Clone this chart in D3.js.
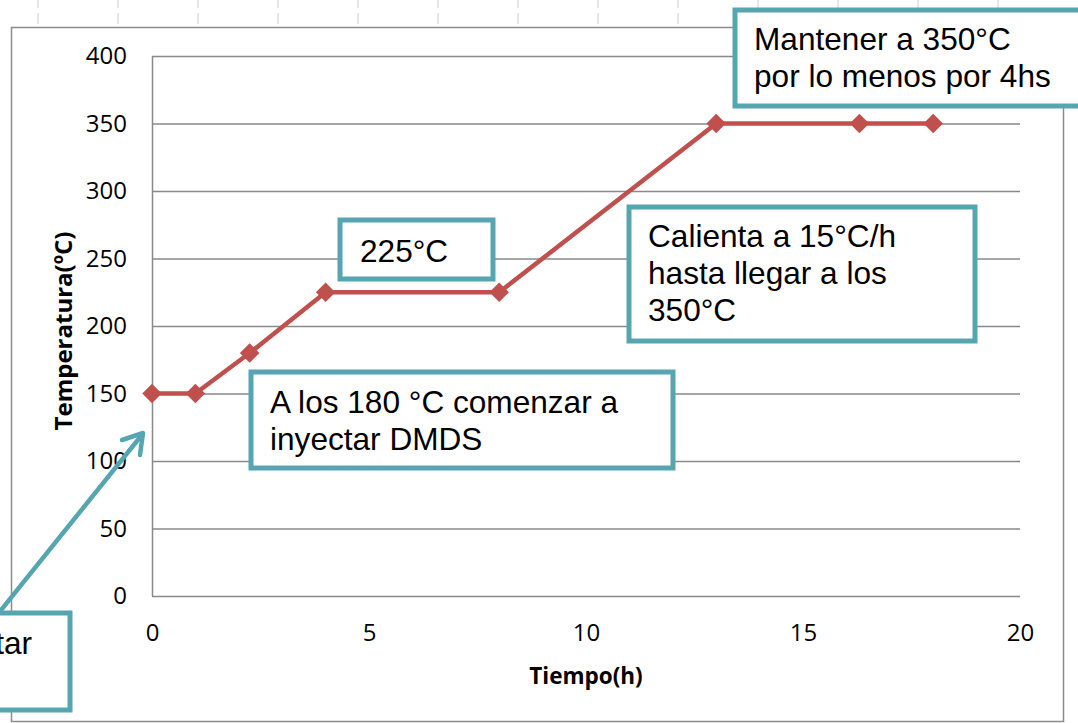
<!DOCTYPE html>
<html>
<head>
<meta charset="utf-8">
<script src="https://cdn.jsdelivr.net/npm/d3@7"></script>
<style>
  body { margin: 0; background: #fff; }
  svg { display: block; }
  .tick text { font-family: "Open Sans", sans-serif; font-size: 24px; fill: #000; }
  .note { font-family: "Liberation Sans", Arial, sans-serif; font-size: 31.6px; fill: #000; }
  .axisTitle { font-family: "Open Sans", sans-serif; font-weight: bold; font-size: 22.5px; fill: #000; }
</style>
</head>
<body>
<svg width="1078" height="723"></svg>
<script>
const times = [0, 1, 2.25, 4, 8, 13, 16.3, 18];
const temps = [150, 150, 180, 225, 225, 350, 350, 350];
const xTicks = [0, 5, 10, 15, 20];
const yTicks = [0, 50, 100, 150, 200, 250, 300, 350, 400];
const xTitle = "Tiempo(h)";
const yTitle = "Temperatura(ºC)";

const noteStart = ["Comenzar a calentar"];
const noteDmds = ["A los 180 °C comenzar a", "inyectar DMDS"];
const note225 = ["225°C"];
const noteRamp = ["Calienta a 15°C/h", "hasta llegar a los", "350°C"];
const noteHold = ["Mantener a 350°C", "por lo menos por 4hs"];

const svg = d3.select("svg");
const width = +svg.attr("width");
const height = +svg.attr("height");
const teal = "#56a6b2";
const red = "#c0504d";
const grid = "#898989";

const defs = svg.append("defs");
const shadow = defs.append("filter").attr("id", "shadow")
  .attr("x", "-10%").attr("y", "-100%").attr("width", "130%").attr("height", "400%");
shadow.append("feDropShadow").attr("dx", 1).attr("dy", 3).attr("stdDeviation", 2)
  .attr("flood-color", "#000").attr("flood-opacity", 0.35);

// spreadsheet cell lines peeking above the chart
const cellX = d3.range(38, width, 80);
svg.append("g").selectAll("line").data(cellX).enter().append("line")
  .attr("x1", d => d).attr("x2", d => d).attr("y1", 0).attr("y2", 8)
  .attr("stroke", "#e6e6e6").attr("stroke-width", 2);
svg.append("g").selectAll("line").data(cellX).enter().append("line")
  .attr("x1", d => d).attr("x2", d => d).attr("y1", 13).attr("y2", 24)
  .attr("stroke", "#e6e6e6").attr("stroke-width", 2);

// chart frame
svg.append("rect").attr("x", 11.5).attr("y", 27.5).attr("width", 1052).attr("height", 694)
  .attr("fill", "#fff").attr("stroke", "#8c8c8c").attr("stroke-width", 1.5);

const margin = { top: 56, right: 58, bottom: 127, left: 152 };
const innerWidth = width - margin.left - margin.right;
const innerHeight = height - margin.top - margin.bottom;

const xScale = d3.scaleLinear().domain([0, 20]).range([0, innerWidth]);
const yScale = d3.scaleLinear().domain([0, 400]).range([innerHeight, 0]);

const g = svg.append("g").attr("transform", `translate(${margin.left},${margin.top})`);

g.append("g")
  .call(d3.axisLeft(yScale).tickValues(yTicks).tickSize(-innerWidth).tickPadding(25))
  .call(ax => ax.select(".domain").remove())
  .call(ax => ax.selectAll(".tick line").attr("stroke", grid).attr("stroke-width", 1.5));

g.append("line").attr("x1", 0.5).attr("x2", 0.5).attr("y1", 0).attr("y2", innerHeight)
  .attr("stroke", grid).attr("stroke-width", 1.5);

g.append("g").attr("transform", `translate(0,${innerHeight})`)
  .call(d3.axisBottom(xScale).tickValues(xTicks).tickSize(0).tickPadding(28))
  .call(ax => ax.select(".domain").remove());

g.append("text").attr("class", "axisTitle")
  .attr("x", xScale(10)).attr("y", innerHeight + 88)
  .attr("text-anchor", "middle").text(xTitle);

g.append("text").attr("class", "axisTitle")
  .style("font-size", "24px")
  .attr("transform", `translate(-80,${innerHeight / 2 + 5}) rotate(-90)`)
  .attr("text-anchor", "middle").text(yTitle);

const data = times.map((t, i) => ({ t, v: temps[i] }));

g.append("path").datum(data)
  .attr("fill", "none").attr("stroke", red).attr("stroke-width", 4.5)
  .attr("stroke-linejoin", "round")
  .attr("d", d3.line().x(d => xScale(d.t)).y(d => yScale(d.v)));

g.selectAll(".marker").data(data).enter().append("path")
  .attr("class", "marker")
  .attr("transform", d => `translate(${xScale(d.t)},${yScale(d.v)}) rotate(45)`)
  .attr("d", d3.symbol(d3.symbolSquare, 190))
  .attr("fill", red);

// teal marker bar at 180 °C
svg.append("line").attr("x1", 145).attr("x2", 295).attr("y1", 357).attr("y2", 357)
  .attr("stroke", teal).attr("stroke-width", 7).attr("filter", "url(#shadow)");

function note(x, y, w, h, lines, tx, ty, anchor) {
  svg.append("rect").attr("x", x).attr("y", y).attr("width", w).attr("height", h)
    .attr("fill", "#fff").attr("stroke", teal).attr("stroke-width", 5);
  const t = svg.append("text").attr("class", "note").attr("text-anchor", anchor || "start");
  lines.forEach((l, i) => {
    t.append("tspan").attr("x", tx).attr("y", ty + i * 37).text(l);
  });
}

note(-20, 613, 90, 97, noteStart, 32, 654, "end");
note(251, 372, 422, 96, noteDmds, 270, 413);
note(340, 220, 153, 59, note225, 360, 262);
note(629, 207, 346, 134, noteRamp, 648, 247);
note(735, 10, 360, 96, noteHold, 754, 50);

// arrow from the start note to the 150 °C point
svg.append("line").attr("x1", -15).attr("y1", 630).attr("x2", 141).attr("y2", 436)
  .attr("stroke", teal).attr("stroke-width", 4.5).attr("stroke-linecap", "round");
svg.append("path").attr("d", "M122,440 L143,433 L140,455")
  .attr("fill", "none").attr("stroke", teal).attr("stroke-width", 4.5)
  .attr("stroke-linecap", "round").attr("stroke-linejoin", "round");
</script>
</body>
</html>
